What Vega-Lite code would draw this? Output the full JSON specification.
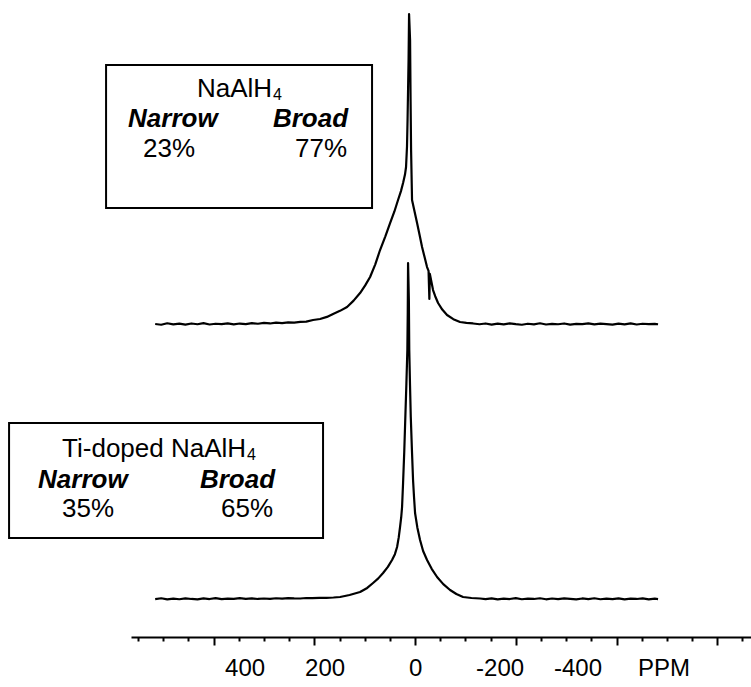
{
  "$schema": "https://vega.github.io/schema/vega-lite/v6.json",
  "description": "27Al NMR spectra of NaAlH4 and Ti-doped NaAlH4, stacked, with narrow/broad component fractions.",
  "autosize": "none",
  "width": 620,
  "height": 637,
  "padding": {"left": 131, "top": 0, "right": 0, "bottom": 50},
  "background": "white",
  "config": {"view": {"stroke": null}, "font": "Liberation Sans", "text": {"font": "Liberation Sans", "color": "black"}},
  "datasets": {
    "spectra": [
      {"s": "NaAlH4", "ppm": 516, "a": 49.14}, {"s": "NaAlH4", "ppm": 504, "a": 49.02}, {"s": "NaAlH4", "ppm": 492, "a": 49.25},
      {"s": "NaAlH4", "ppm": 480, "a": 49.08}, {"s": "NaAlH4", "ppm": 468, "a": 49.2}, {"s": "NaAlH4", "ppm": 456, "a": 49.05},
      {"s": "NaAlH4", "ppm": 444, "a": 49.22}, {"s": "NaAlH4", "ppm": 432, "a": 49.1}, {"s": "NaAlH4", "ppm": 420, "a": 49.27},
      {"s": "NaAlH4", "ppm": 408, "a": 49.06}, {"s": "NaAlH4", "ppm": 396, "a": 49.18}, {"s": "NaAlH4", "ppm": 384, "a": 49.12},
      {"s": "NaAlH4", "ppm": 372, "a": 49.24}, {"s": "NaAlH4", "ppm": 360, "a": 49.09}, {"s": "NaAlH4", "ppm": 348, "a": 49.21},
      {"s": "NaAlH4", "ppm": 336, "a": 49.13}, {"s": "NaAlH4", "ppm": 324, "a": 49.27}, {"s": "NaAlH4", "ppm": 312, "a": 49.18},
      {"s": "NaAlH4", "ppm": 300, "a": 49.3}, {"s": "NaAlH4", "ppm": 288, "a": 49.22}, {"s": "NaAlH4", "ppm": 276, "a": 49.34},
      {"s": "NaAlH4", "ppm": 264, "a": 49.28}, {"s": "NaAlH4", "ppm": 252, "a": 49.38}, {"s": "NaAlH4", "ppm": 240, "a": 49.36},
      {"s": "NaAlH4", "ppm": 228, "a": 49.46}, {"s": "NaAlH4", "ppm": 216, "a": 49.5}, {"s": "NaAlH4", "ppm": 202.5, "a": 49.76},
      {"s": "NaAlH4", "ppm": 188.6, "a": 49.92}, {"s": "NaAlH4", "ppm": 175, "a": 50.25}, {"s": "NaAlH4", "ppm": 162.8, "a": 50.71},
      {"s": "NaAlH4", "ppm": 149, "a": 51.2}, {"s": "NaAlH4", "ppm": 135, "a": 51.81}, {"s": "NaAlH4", "ppm": 122, "a": 52.8},
      {"s": "NaAlH4", "ppm": 109.2, "a": 54.0}, {"s": "NaAlH4", "ppm": 99, "a": 55.2}, {"s": "NaAlH4", "ppm": 89.3, "a": 56.52},
      {"s": "NaAlH4", "ppm": 79, "a": 58.5}, {"s": "NaAlH4", "ppm": 69.5, "a": 60.75}, {"s": "NaAlH4", "ppm": 59, "a": 62.9},
      {"s": "NaAlH4", "ppm": 49.6, "a": 64.99}, {"s": "NaAlH4", "ppm": 41, "a": 66.8}, {"s": "NaAlH4", "ppm": 33.8, "a": 68.6},
      {"s": "NaAlH4", "ppm": 28, "a": 70.0}, {"s": "NaAlH4", "ppm": 23.8, "a": 71.27}, {"s": "NaAlH4", "ppm": 20, "a": 72.6},
      {"s": "NaAlH4", "ppm": 17.9, "a": 73.78}, {"s": "NaAlH4", "ppm": 16, "a": 77.0}, {"s": "NaAlH4", "ppm": 14.9, "a": 81.16},
      {"s": "NaAlH4", "ppm": 12.9, "a": 90.58}, {"s": "NaAlH4", "ppm": 11.9, "a": 97.8}, {"s": "NaAlH4", "ppm": 9.9, "a": 93.72},
      {"s": "NaAlH4", "ppm": 8.9, "a": 84.3}, {"s": "NaAlH4", "ppm": 7.9, "a": 76.45}, {"s": "NaAlH4", "ppm": 6.0, "a": 68.6},
      {"s": "NaAlH4", "ppm": 1, "a": 66.8}, {"s": "NaAlH4", "ppm": -4.0, "a": 64.99}, {"s": "NaAlH4", "ppm": -9, "a": 63.1},
      {"s": "NaAlH4", "ppm": -13.9, "a": 61.22}, {"s": "NaAlH4", "ppm": -19, "a": 59.6}, {"s": "NaAlH4", "ppm": -23.8, "a": 58.08},
      {"s": "NaAlH4", "ppm": -26.8, "a": 57.46}, {"s": "NaAlH4", "ppm": -28.4, "a": 53.06}, {"s": "NaAlH4", "ppm": -29.4, "a": 56.99},
      {"s": "NaAlH4", "ppm": -35.7, "a": 54.47}, {"s": "NaAlH4", "ppm": -40, "a": 53.5}, {"s": "NaAlH4", "ppm": -45.7, "a": 52.43},
      {"s": "NaAlH4", "ppm": -54, "a": 51.4}, {"s": "NaAlH4", "ppm": -63.5, "a": 50.55}, {"s": "NaAlH4", "ppm": -76, "a": 49.9},
      {"s": "NaAlH4", "ppm": -89.3, "a": 49.45}, {"s": "NaAlH4", "ppm": -102, "a": 49.3}, {"s": "NaAlH4", "ppm": -115.2, "a": 49.22},
      {"s": "NaAlH4", "ppm": -128, "a": 49.1}, {"s": "NaAlH4", "ppm": -140, "a": 49.22}, {"s": "NaAlH4", "ppm": -152, "a": 49.05},
      {"s": "NaAlH4", "ppm": -164, "a": 49.19}, {"s": "NaAlH4", "ppm": -176, "a": 49.08}, {"s": "NaAlH4", "ppm": -188, "a": 49.23},
      {"s": "NaAlH4", "ppm": -200, "a": 49.11}, {"s": "NaAlH4", "ppm": -212, "a": 49.02}, {"s": "NaAlH4", "ppm": -224, "a": 49.18},
      {"s": "NaAlH4", "ppm": -236, "a": 49.09}, {"s": "NaAlH4", "ppm": -248, "a": 49.25}, {"s": "NaAlH4", "ppm": -260, "a": 49.06},
      {"s": "NaAlH4", "ppm": -272, "a": 49.17}, {"s": "NaAlH4", "ppm": -284, "a": 49.1}, {"s": "NaAlH4", "ppm": -296, "a": 49.22},
      {"s": "NaAlH4", "ppm": -308, "a": 49.04}, {"s": "NaAlH4", "ppm": -320, "a": 49.16}, {"s": "NaAlH4", "ppm": -332, "a": 49.11},
      {"s": "NaAlH4", "ppm": -344, "a": 49.24}, {"s": "NaAlH4", "ppm": -356, "a": 49.07}, {"s": "NaAlH4", "ppm": -368, "a": 49.19},
      {"s": "NaAlH4", "ppm": -380, "a": 49.12}, {"s": "NaAlH4", "ppm": -392, "a": 49.03}, {"s": "NaAlH4", "ppm": -404, "a": 49.2},
      {"s": "NaAlH4", "ppm": -416, "a": 49.09}, {"s": "NaAlH4", "ppm": -428, "a": 49.23}, {"s": "NaAlH4", "ppm": -440, "a": 49.06},
      {"s": "NaAlH4", "ppm": -452, "a": 49.18}, {"s": "NaAlH4", "ppm": -464, "a": 49.11}, {"s": "NaAlH4", "ppm": -476, "a": 49.15},
      {"s": "NaAlH4", "ppm": -482.5, "a": 49.1},

      {"s": "Ti-doped", "ppm": 516, "a": 5.95}, {"s": "Ti-doped", "ppm": 504, "a": 6.08}, {"s": "Ti-doped", "ppm": 492, "a": 5.9},
      {"s": "Ti-doped", "ppm": 480, "a": 6.02}, {"s": "Ti-doped", "ppm": 468, "a": 5.93}, {"s": "Ti-doped", "ppm": 456, "a": 6.06},
      {"s": "Ti-doped", "ppm": 444, "a": 5.97}, {"s": "Ti-doped", "ppm": 432, "a": 5.91}, {"s": "Ti-doped", "ppm": 420, "a": 6.05},
      {"s": "Ti-doped", "ppm": 408, "a": 5.96}, {"s": "Ti-doped", "ppm": 396, "a": 6.09}, {"s": "Ti-doped", "ppm": 384, "a": 5.94},
      {"s": "Ti-doped", "ppm": 372, "a": 6.03}, {"s": "Ti-doped", "ppm": 360, "a": 5.98}, {"s": "Ti-doped", "ppm": 348, "a": 6.1},
      {"s": "Ti-doped", "ppm": 336, "a": 5.99}, {"s": "Ti-doped", "ppm": 324, "a": 6.06}, {"s": "Ti-doped", "ppm": 312, "a": 5.97},
      {"s": "Ti-doped", "ppm": 300, "a": 6.04}, {"s": "Ti-doped", "ppm": 288, "a": 6.0}, {"s": "Ti-doped", "ppm": 276, "a": 6.08},
      {"s": "Ti-doped", "ppm": 264, "a": 6.02}, {"s": "Ti-doped", "ppm": 252, "a": 6.1}, {"s": "Ti-doped", "ppm": 240, "a": 6.05},
      {"s": "Ti-doped", "ppm": 228, "a": 6.04}, {"s": "Ti-doped", "ppm": 216, "a": 6.12}, {"s": "Ti-doped", "ppm": 204, "a": 6.1},
      {"s": "Ti-doped", "ppm": 190, "a": 6.15}, {"s": "Ti-doped", "ppm": 176, "a": 6.14}, {"s": "Ti-doped", "ppm": 162, "a": 6.2},
      {"s": "Ti-doped", "ppm": 148.9, "a": 6.28}, {"s": "Ti-doped", "ppm": 130, "a": 6.6}, {"s": "Ti-doped", "ppm": 109.2, "a": 7.06},
      {"s": "Ti-doped", "ppm": 95, "a": 7.7}, {"s": "Ti-doped", "ppm": 83.4, "a": 8.48}, {"s": "Ti-doped", "ppm": 73, "a": 9.2},
      {"s": "Ti-doped", "ppm": 63.5, "a": 10.05}, {"s": "Ti-doped", "ppm": 54, "a": 11.0}, {"s": "Ti-doped", "ppm": 45.7, "a": 12.09},
      {"s": "Ti-doped", "ppm": 40, "a": 13.0}, {"s": "Ti-doped", "ppm": 35.7, "a": 14.13}, {"s": "Ti-doped", "ppm": 32.5, "a": 15.6},
      {"s": "Ti-doped", "ppm": 29.8, "a": 17.27}, {"s": "Ti-doped", "ppm": 27.5, "a": 18.8}, {"s": "Ti-doped", "ppm": 25.8, "a": 20.41},
      {"s": "Ti-doped", "ppm": 23.8, "a": 24.18}, {"s": "Ti-doped", "ppm": 21.5, "a": 29.0}, {"s": "Ti-doped", "ppm": 19.3, "a": 34.54},
      {"s": "Ti-doped", "ppm": 17.2, "a": 39.8}, {"s": "Ti-doped", "ppm": 15.3, "a": 45.05}, {"s": "Ti-doped", "ppm": 14.5, "a": 51.0},
      {"s": "Ti-doped", "ppm": 13.9, "a": 58.71}, {"s": "Ti-doped", "ppm": 13.0, "a": 55.5}, {"s": "Ti-doped", "ppm": 12.3, "a": 52.9},
      {"s": "Ti-doped", "ppm": 11.5, "a": 45.05}, {"s": "Ti-doped", "ppm": 10, "a": 39.5}, {"s": "Ti-doped", "ppm": 8.5, "a": 34.54},
      {"s": "Ti-doped", "ppm": 6.3, "a": 29.5}, {"s": "Ti-doped", "ppm": 4.0, "a": 24.65}, {"s": "Ti-doped", "ppm": 2, "a": 21.9},
      {"s": "Ti-doped", "ppm": 0, "a": 19.47}, {"s": "Ti-doped", "ppm": -4.5, "a": 17.2}, {"s": "Ti-doped", "ppm": -9.9, "a": 15.23},
      {"s": "Ti-doped", "ppm": -16, "a": 13.5}, {"s": "Ti-doped", "ppm": -23.8, "a": 12.09}, {"s": "Ti-doped", "ppm": -33, "a": 10.7},
      {"s": "Ti-doped", "ppm": -43.7, "a": 9.42}, {"s": "Ti-doped", "ppm": -56, "a": 8.3}, {"s": "Ti-doped", "ppm": -69.5, "a": 7.38},
      {"s": "Ti-doped", "ppm": -82, "a": 6.75}, {"s": "Ti-doped", "ppm": -95.3, "a": 6.28}, {"s": "Ti-doped", "ppm": -112, "a": 6.12},
      {"s": "Ti-doped", "ppm": -129.1, "a": 6.04}, {"s": "Ti-doped", "ppm": -140, "a": 5.95}, {"s": "Ti-doped", "ppm": -152, "a": 6.07},
      {"s": "Ti-doped", "ppm": -164, "a": 5.92}, {"s": "Ti-doped", "ppm": -176, "a": 6.03}, {"s": "Ti-doped", "ppm": -188, "a": 5.96},
      {"s": "Ti-doped", "ppm": -200, "a": 6.09}, {"s": "Ti-doped", "ppm": -212, "a": 5.93}, {"s": "Ti-doped", "ppm": -224, "a": 6.01},
      {"s": "Ti-doped", "ppm": -236, "a": 5.97}, {"s": "Ti-doped", "ppm": -248, "a": 6.08}, {"s": "Ti-doped", "ppm": -260, "a": 5.92},
      {"s": "Ti-doped", "ppm": -272, "a": 6.04}, {"s": "Ti-doped", "ppm": -284, "a": 5.95}, {"s": "Ti-doped", "ppm": -296, "a": 6.06},
      {"s": "Ti-doped", "ppm": -308, "a": 5.98}, {"s": "Ti-doped", "ppm": -320, "a": 5.9}, {"s": "Ti-doped", "ppm": -332, "a": 6.05},
      {"s": "Ti-doped", "ppm": -344, "a": 5.96}, {"s": "Ti-doped", "ppm": -356, "a": 6.08}, {"s": "Ti-doped", "ppm": -368, "a": 5.93},
      {"s": "Ti-doped", "ppm": -380, "a": 6.02}, {"s": "Ti-doped", "ppm": -392, "a": 5.94}, {"s": "Ti-doped", "ppm": -404, "a": 6.07},
      {"s": "Ti-doped", "ppm": -416, "a": 5.91}, {"s": "Ti-doped", "ppm": -428, "a": 6.03}, {"s": "Ti-doped", "ppm": -440, "a": 5.97},
      {"s": "Ti-doped", "ppm": -452, "a": 6.06}, {"s": "Ti-doped", "ppm": -464, "a": 5.92}, {"s": "Ti-doped", "ppm": -476, "a": 6.01},
      {"s": "Ti-doped", "ppm": -482.5, "a": 5.96}
    ],
    "boxes": [
      {"ppm": 613.5, "ppm2": 85.4, "a": 89.8, "a2": 67.35},
      {"ppm": 806.1, "ppm2": 182.7, "a": 33.59, "a2": 15.54}
    ],
    "titles": [
      {"ppm": 283.9, "a": 84.77, "t": "NaAlH"},
      {"ppm": 335.5, "a": 28.26, "t": "Ti-doped NaAlH"}
    ],
    "subscripts": [
      {"ppm": 281.9, "a": 84.3, "t": "4"},
      {"ppm": 333.6, "a": 27.79, "t": "4"}
    ],
    "narrow": [
      {"ppm": 569.8, "a": 80.06, "t": "Narrow"},
      {"ppm": 748.5, "a": 23.39, "t": "Narrow"}
    ],
    "broad": [
      {"ppm": 133.0, "a": 80.06, "t": "Broad"},
      {"ppm": 278.0, "a": 23.39, "t": "Broad"}
    ],
    "narrowPct": [
      {"ppm": 540.0, "a": 75.35, "t": "23%"},
      {"ppm": 700.9, "a": 18.84, "t": "35%"}
    ],
    "broadPct": [
      {"ppm": 135.0, "a": 75.35, "t": "77%"},
      {"ppm": 281.9, "a": 18.84, "t": "65%"}
    ],
    "scaleLabels": [
      {"ppm": 337.5, "a": -6.2, "t": "400"},
      {"ppm": 178.7, "a": -6.2, "t": "200"},
      {"ppm": -1.0, "a": -6.2, "t": "0"},
      {"ppm": -168.8, "a": -6.2, "t": "-200"},
      {"ppm": -323.6, "a": -6.2, "t": "-400"},
      {"ppm": -494.4, "a": -6.2, "t": "PPM"}
    ]
  },
  "encoding": {
    "x": {
      "field": "ppm",
      "type": "quantitative",
      "scale": {"domain": [-667, 564], "reverse": true, "nice": false, "zero": false},
      "axis": {
        "values": [-650, -600, -550, -500, -450, -400, -350, -300, -250, -200, -150, -100, -50, 0, 50, 100, 150, 200, 250, 300, 350, 400, 450, 500, 550],
        "labels": false,
        "title": null,
        "grid": false,
        "domainColor": "black",
        "domainWidth": 2,
        "tickColor": "black",
        "tickWidth": 2,
        "tickSize": {"condition": {"test": "datum.value % 200 === 0", "value": 8}, "value": 4}
      }
    },
    "y": {
      "field": "a",
      "type": "quantitative",
      "scale": {"domain": [0, 100], "nice": false, "zero": false},
      "axis": null
    }
  },
  "layer": [
    {
      "data": {"name": "spectra"},
      "mark": {"type": "line", "color": "black", "strokeWidth": 2.2, "strokeJoin": "round"},
      "encoding": {"detail": {"field": "s"}}
    },
    {
      "data": {"name": "boxes"},
      "mark": {"type": "rect", "filled": false, "stroke": "black", "strokeWidth": 2},
      "encoding": {"x2": {"field": "ppm2"}, "y2": {"field": "a2"}}
    },
    {
      "data": {"name": "titles"},
      "mark": {"type": "text", "align": "right", "baseline": "alphabetic", "fontSize": 26},
      "encoding": {"text": {"field": "t"}}
    },
    {
      "data": {"name": "subscripts"},
      "mark": {"type": "text", "align": "left", "baseline": "alphabetic", "fontSize": 16},
      "encoding": {"text": {"field": "t"}}
    },
    {
      "data": {"name": "narrow"},
      "mark": {"type": "text", "align": "left", "baseline": "alphabetic", "fontSize": 26, "fontWeight": "bold", "fontStyle": "italic"},
      "encoding": {"text": {"field": "t"}}
    },
    {
      "data": {"name": "broad"},
      "mark": {"type": "text", "align": "right", "baseline": "alphabetic", "fontSize": 26, "fontWeight": "bold", "fontStyle": "italic"},
      "encoding": {"text": {"field": "t"}}
    },
    {
      "data": {"name": "narrowPct"},
      "mark": {"type": "text", "align": "left", "baseline": "alphabetic", "fontSize": 26},
      "encoding": {"text": {"field": "t"}}
    },
    {
      "data": {"name": "broadPct"},
      "mark": {"type": "text", "align": "right", "baseline": "alphabetic", "fontSize": 26},
      "encoding": {"text": {"field": "t"}}
    },
    {
      "data": {"name": "scaleLabels"},
      "mark": {"type": "text", "align": "center", "baseline": "alphabetic", "fontSize": 24},
      "encoding": {"text": {"field": "t"}}
    }
  ]
}
